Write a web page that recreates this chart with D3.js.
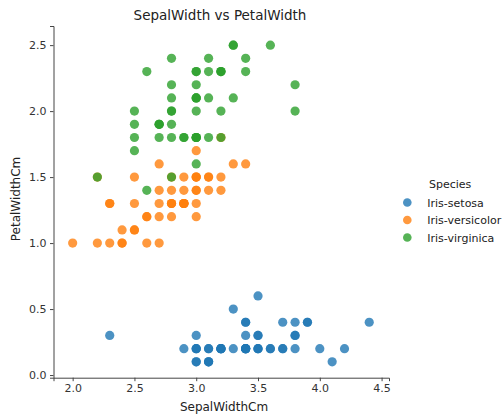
<!DOCTYPE html>
<html>
<head>
<meta charset="utf-8">
<script src="https://cdn.jsdelivr.net/npm/d3@7"></script>
<style>
  html, body { margin: 0; padding: 0; background: #fff; }
  svg { display: block; font-family: "DejaVu Sans", sans-serif; }
</style>
</head>
<body>
<svg id="chart" width="504" height="416"></svg>
<script>
// Iris measurements: sepal width vs petal width (cm), per species
const species = ["Iris-setosa", "Iris-versicolor", "Iris-virginica"];
const colors = ["#1f77b4", "#ff7f0e", "#2ca02c"];

const setosaSepalWidth = [3.5,3.0,3.2,3.1,3.6,3.9,3.4,3.4,2.9,3.1,3.7,3.4,3.0,3.0,4.0,4.4,3.9,3.5,3.8,3.8,
  3.4,3.7,3.6,3.3,3.4,3.0,3.4,3.5,3.4,3.2,3.1,3.4,4.1,4.2,3.1,3.2,3.5,3.1,3.0,3.4,
  3.5,2.3,3.2,3.5,3.8,3.0,3.8,3.2,3.7,3.3];
const setosaPetalWidth = [0.2,0.2,0.2,0.2,0.2,0.4,0.3,0.2,0.2,0.1,0.2,0.2,0.1,0.1,0.2,0.4,0.4,0.3,0.3,0.3,
  0.2,0.4,0.2,0.5,0.2,0.2,0.4,0.2,0.2,0.2,0.2,0.4,0.1,0.2,0.1,0.2,0.2,0.1,0.2,0.2,
  0.3,0.3,0.2,0.6,0.4,0.3,0.2,0.2,0.2,0.2];

const versicolorSepalWidth = [3.2,3.2,3.1,2.3,2.8,2.8,3.3,2.4,2.9,2.7,2.0,3.0,2.2,2.9,2.9,3.1,3.0,2.7,2.2,2.5,
  3.2,2.8,2.5,2.8,2.9,3.0,2.8,3.0,2.9,2.6,2.4,2.4,2.7,2.7,3.0,3.4,3.1,2.3,3.0,2.5,
  2.6,3.0,2.6,2.3,2.7,3.0,2.9,2.9,2.5,2.8];
const versicolorPetalWidth = [1.4,1.5,1.5,1.3,1.5,1.3,1.6,1.0,1.3,1.4,1.0,1.5,1.0,1.4,1.3,1.4,1.5,1.0,1.5,1.1,
  1.8,1.3,1.5,1.2,1.3,1.4,1.4,1.7,1.5,1.0,1.1,1.0,1.2,1.6,1.5,1.6,1.5,1.3,1.3,1.3,
  1.2,1.4,1.2,1.0,1.3,1.2,1.3,1.3,1.1,1.3];

const virginicaSepalWidth = [3.3,2.7,3.0,2.9,3.0,3.0,2.5,2.9,2.5,3.6,3.2,2.7,3.0,2.5,2.8,3.2,3.0,3.8,2.6,2.2,
  3.2,2.8,2.8,2.7,3.3,3.2,2.8,3.0,2.8,3.0,2.8,3.8,2.8,2.8,2.6,3.0,3.4,3.1,3.0,3.1,
  3.1,3.1,2.7,3.2,3.3,3.0,2.5,3.0,3.4,3.0];
const virginicaPetalWidth = [2.5,1.9,2.1,1.8,2.2,2.1,1.7,1.8,1.8,2.5,2.0,1.9,2.1,2.0,2.4,2.3,1.8,2.2,2.3,1.5,
  2.3,2.0,2.0,1.8,2.1,1.8,1.8,1.8,2.1,1.6,1.9,2.0,2.2,1.5,1.4,2.3,2.4,1.8,1.8,2.1,
  2.4,2.3,1.9,2.3,2.5,2.3,1.9,2.0,2.3,1.8];

const xTicks = [2.0, 2.5, 3.0, 3.5, 4.0, 4.5];
const yTicks = [0.0, 0.5, 1.0, 1.5, 2.0, 2.5];

const groups = [
  { name: species[0], color: colors[0], xs: setosaSepalWidth, ys: setosaPetalWidth },
  { name: species[1], color: colors[1], xs: versicolorSepalWidth, ys: versicolorPetalWidth },
  { name: species[2], color: colors[2], xs: virginicaSepalWidth, ys: virginicaPetalWidth }
];

const svg = d3.select("#chart");
const plotLeft = 53.5, plotRight = 389, plotTop = 26, plotBottom = 377.7;

const x = d3.scaleLinear().domain([1.845, 4.56]).range([plotLeft, plotRight]);
const y = d3.scaleLinear().domain([-0.02, 2.645]).range([plotBottom, plotTop]);

// axes (left and bottom spines only)
const xAxis = svg.append("g")
  .attr("transform", `translate(0,${plotBottom})`)
  .call(d3.axisBottom(x).tickValues(xTicks).tickFormat(d3.format(".1f")).tickSizeOuter(0).tickSize(3.5).tickPadding(3.5));
const yAxis = svg.append("g")
  .attr("transform", `translate(${plotLeft},0)`)
  .call(d3.axisLeft(y).tickValues(yTicks).tickFormat(d3.format(".1f")).tickSizeOuter(0).tickSize(3.5).tickPadding(3.5));

[xAxis, yAxis].forEach(g => {
  g.select(".domain").attr("stroke", "#444").attr("stroke-width", 1);
  g.selectAll(".tick line").attr("stroke", "#444").attr("stroke-width", 1);
  g.selectAll(".tick text").attr("fill", "#333").style("font-size", "11px")
    .style("font-family", "DejaVu Sans, sans-serif");
});

// points
groups.forEach(gr => {
  svg.append("g").selectAll("circle")
    .data(gr.xs.map((v, i) => [v, gr.ys[i]]))
    .join("circle")
    .attr("cx", d => x(d[0]))
    .attr("cy", d => y(d[1]))
    .attr("r", 4.6)
    .attr("fill", gr.color)
    .attr("fill-opacity", 0.8);
});

// title and axis labels
svg.append("text")
  .attr("x", 220).attr("y", 20)
  .attr("text-anchor", "middle")
  .attr("fill", "#222")
  .style("font-size", "13.5px")
  .text("SepalWidth vs PetalWidth");

svg.append("text")
  .attr("x", 224).attr("y", 411)
  .attr("text-anchor", "middle")
  .attr("fill", "#222")
  .style("font-size", "12px")
  .text("SepalWidthCm");

svg.append("text")
  .attr("transform", "translate(20,199) rotate(-90)")
  .attr("text-anchor", "middle")
  .attr("fill", "#222")
  .style("font-size", "12px")
  .text("PetalWidthCm");

// legend
const legend = svg.append("g");
legend.append("text")
  .attr("x", 429).attr("y", 188)
  .attr("fill", "#222")
  .style("font-size", "11px")
  .text("Species");

const entries = legend.selectAll("g.entry")
  .data(groups)
  .join("g")
  .attr("class", "entry")
  .attr("transform", (d, i) => `translate(0,${202.5 + i * 17.5})`);
entries.append("circle")
  .attr("cx", 407.3).attr("cy", 0).attr("r", 4.3)
  .attr("fill", d => d.color).attr("fill-opacity", 0.8);
entries.append("text")
  .attr("x", 427.3).attr("y", 4)
  .attr("fill", "#222")
  .style("font-size", "11px")
  .text(d => d.name);
</script>
</body>
</html>
